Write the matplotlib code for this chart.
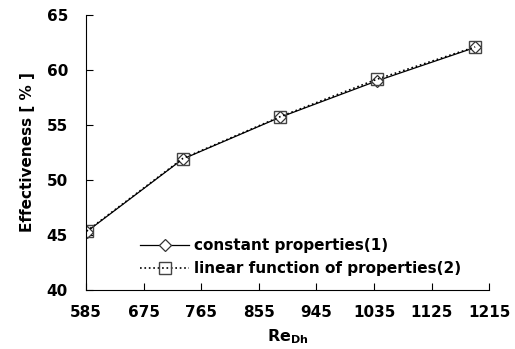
import matplotlib.pyplot as plt

## Data:
re_dh = [586, 736, 888, 1039, 1193]
eff_const = [45.3, 51.9, 55.7, 59.0, 62.05]
eff_linear = [45.35, 51.95, 55.75, 59.15, 62.1]
x_ticks = [585, 675, 765, 855, 945, 1035, 1125, 1215]
y_ticks = [40, 45, 50, 55, 60, 65]

plt.rcParams['font.family'] = ['DejaVu Sans']

fig = plt.figure(figsize=(5.15, 3.49), dpi=100)
ax = fig.add_axes([0.167, 0.169, 0.783, 0.788])

## Draw the two series:
ax.plot(re_dh, eff_const, '-', color='black', lw=0.9, marker='D', ms=6.5,
        mfc='white', mec='#333333', mew=0.9, label='constant properties(1)')
ax.plot(re_dh, eff_linear, ':', color='black', lw=1.2, marker='s', ms=9,
        mfc='none', mec='#444444', mew=1.0, label='linear function of properties(2)')

ax.set_xlim(585, 1215)
ax.set_ylim(40, 65)
ax.set_xticks(x_ticks)
ax.set_yticks(y_ticks)
ax.tick_params(direction='in', length=5, width=0.8, labelsize=11)
ax.tick_params(axis='x', pad=11)
ax.tick_params(axis='y', pad=13)
for lbl in ax.get_xticklabels() + ax.get_yticklabels():
    lbl.set_fontweight('bold')

ax.spines['top'].set_visible(False)
ax.spines['right'].set_visible(False)

ax.set_xlabel('Re$_{\\mathbf{Dh}}$', fontsize=11.5, fontweight='bold', labelpad=5)
ax.set_ylabel('Effectiveness [ % ]', fontsize=11, fontweight='bold', labelpad=8)

ax.legend(loc='lower left', bbox_to_anchor=(0.1, 0.0), frameon=False,
          handlelength=3.2, handletextpad=0.3, labelspacing=0.55,
          prop={'weight': 'bold', 'size': 11})

plt.savefig('out.png', dpi=100)
